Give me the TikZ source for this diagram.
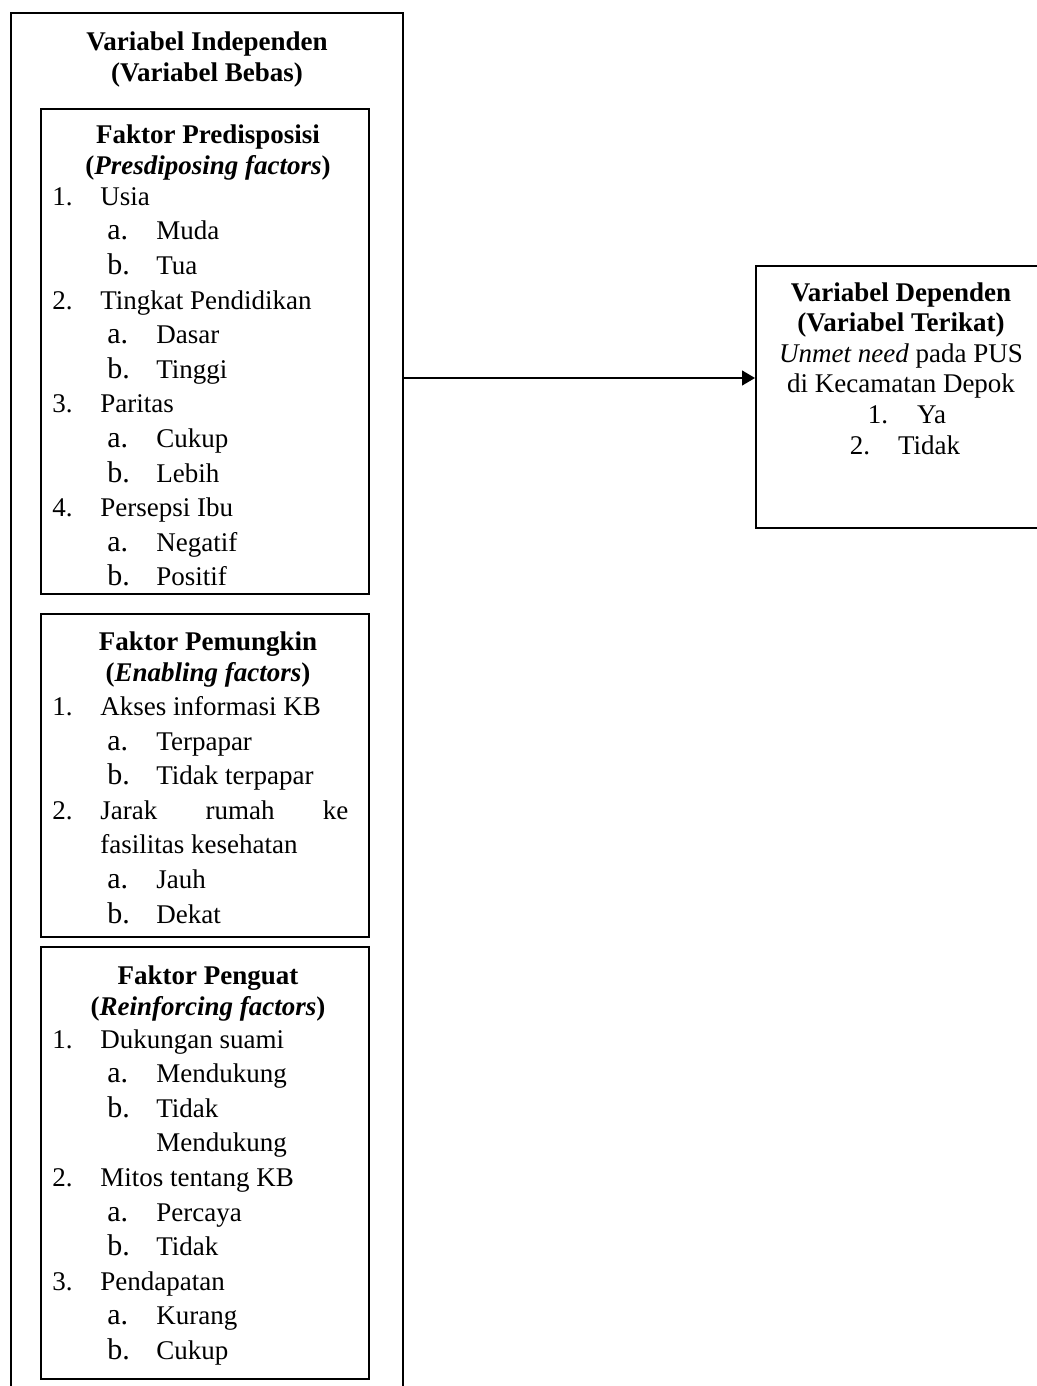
\documentclass[tikz,border=0pt]{standalone}
\usepackage{fontspec}
\setmainfont{Liberation Serif}
\usetikzlibrary{arrows.meta}

\newcommand{\numitm}[2]{\makebox[24pt][l]{#1}#2}
\newcommand{\subitm}[2]{\hspace*{27.5pt}\makebox[24.5pt][l]{\fontsize{15}{17.3}\selectfont #1}#2}

\begin{document}
\begin{tikzpicture}[x=1pt,y=-1pt,
    box/.style={draw,line width=0.9pt,inner sep=0pt,anchor=north west},
    title/.style={anchor=north,align=center,inner sep=0pt,font=\bfseries\fontsize{13.5}{15.8}\selectfont},
    list/.style={anchor=north west,align=left,inner sep=0pt,font=\fontsize{13.5}{17.3}\selectfont}]
    \useasboundingbox (0,0) rectangle (518.5,693);
    \clip (0,0) rectangle (518.5,693);

    % independent variables
    \node[box,minimum width=196pt,minimum height=720pt] (indep) at (5,6) {};
    \node[title] (indepTitle) at (103.5,15.5) {Variabel Independen\\(Variabel Bebas)};

    \node[box,minimum width=164pt,minimum height=242.5pt] (predis) at (20,54) {};
    \node[title] (predisTitle) at (104,62) {Faktor Predisposisi\\(\textit{Presdiposing factors})};
    \node[list] (predisList) at (26,93.5) {
        \numitm{1.}{Usia}\\
        \subitm{a.}{Muda}\\
        \subitm{b.}{Tua}\\
        \numitm{2.}{Tingkat Pendidikan}\\
        \subitm{a.}{Dasar}\\
        \subitm{b.}{Tinggi}\\
        \numitm{3.}{Paritas}\\
        \subitm{a.}{Cukup}\\
        \subitm{b.}{Lebih}\\
        \numitm{4.}{Persepsi Ibu}\\
        \subitm{a.}{Negatif}\\
        \subitm{b.}{Positif}};

    \node[box,minimum width=164pt,minimum height=161.5pt] (enabl) at (20,306.5) {};
    \node[title] (enablTitle) at (104,315.5) {Faktor Pemungkin\\(\textit{Enabling factors})};
    \node[list] (enablList) at (26,348) {
        \numitm{1.}{Akses informasi KB}\\
        \subitm{a.}{Terpapar}\\
        \subitm{b.}{Tidak terpapar}\\
        \numitm{2.}{\makebox[124pt][l]{Jarak\hfill rumah\hfill ke}}\\
        \hspace*{24pt}fasilitas kesehatan\\
        \subitm{a.}{Jauh}\\
        \subitm{b.}{Dekat}};

    \node[box,minimum width=164pt,minimum height=216pt] (reinf) at (20,473) {};
    \node[title] (reinfTitle) at (104,482.5) {Faktor Penguat\\(\textit{Reinforcing factors})};
    \node[list] (reinfList) at (26,514.5) {
        \numitm{1.}{Dukungan suami}\\
        \subitm{a.}{Mendukung}\\
        \subitm{b.}{Tidak}\\
        \hspace*{52pt}Mendukung\\
        \numitm{2.}{Mitos tentang KB}\\
        \subitm{a.}{Percaya}\\
        \subitm{b.}{Tidak}\\
        \numitm{3.}{Pendapatan}\\
        \subitm{a.}{Kurang}\\
        \subitm{b.}{Cukup}};

    % dependent variable
    \node[box,minimum width=141pt,minimum height=131pt] (dep) at (377.5,132.5) {};
    \node[anchor=north,align=center,inner sep=0pt,font=\fontsize{13.5}{15.3}\selectfont] (depText) at (450.5,141) {
        \textbf{Variabel Dependen}\\
        \textbf{(Variabel Terikat)}\\
        \textit{Unmet need} pada PUS\\
        di Kecamatan Depok\\
        \hspace*{6pt}1.\hspace{14.5pt}Ya\\
        \hspace*{4pt}2.\hspace{14pt}Tidak};

    \coordinate (arrowStart) at (201,189);
    \draw[line width=0.6pt,-{Triangle[length=6.5pt,width=7.5pt]}] (arrowStart) -- (arrowStart -| dep.west);
\end{tikzpicture}
\end{document}
